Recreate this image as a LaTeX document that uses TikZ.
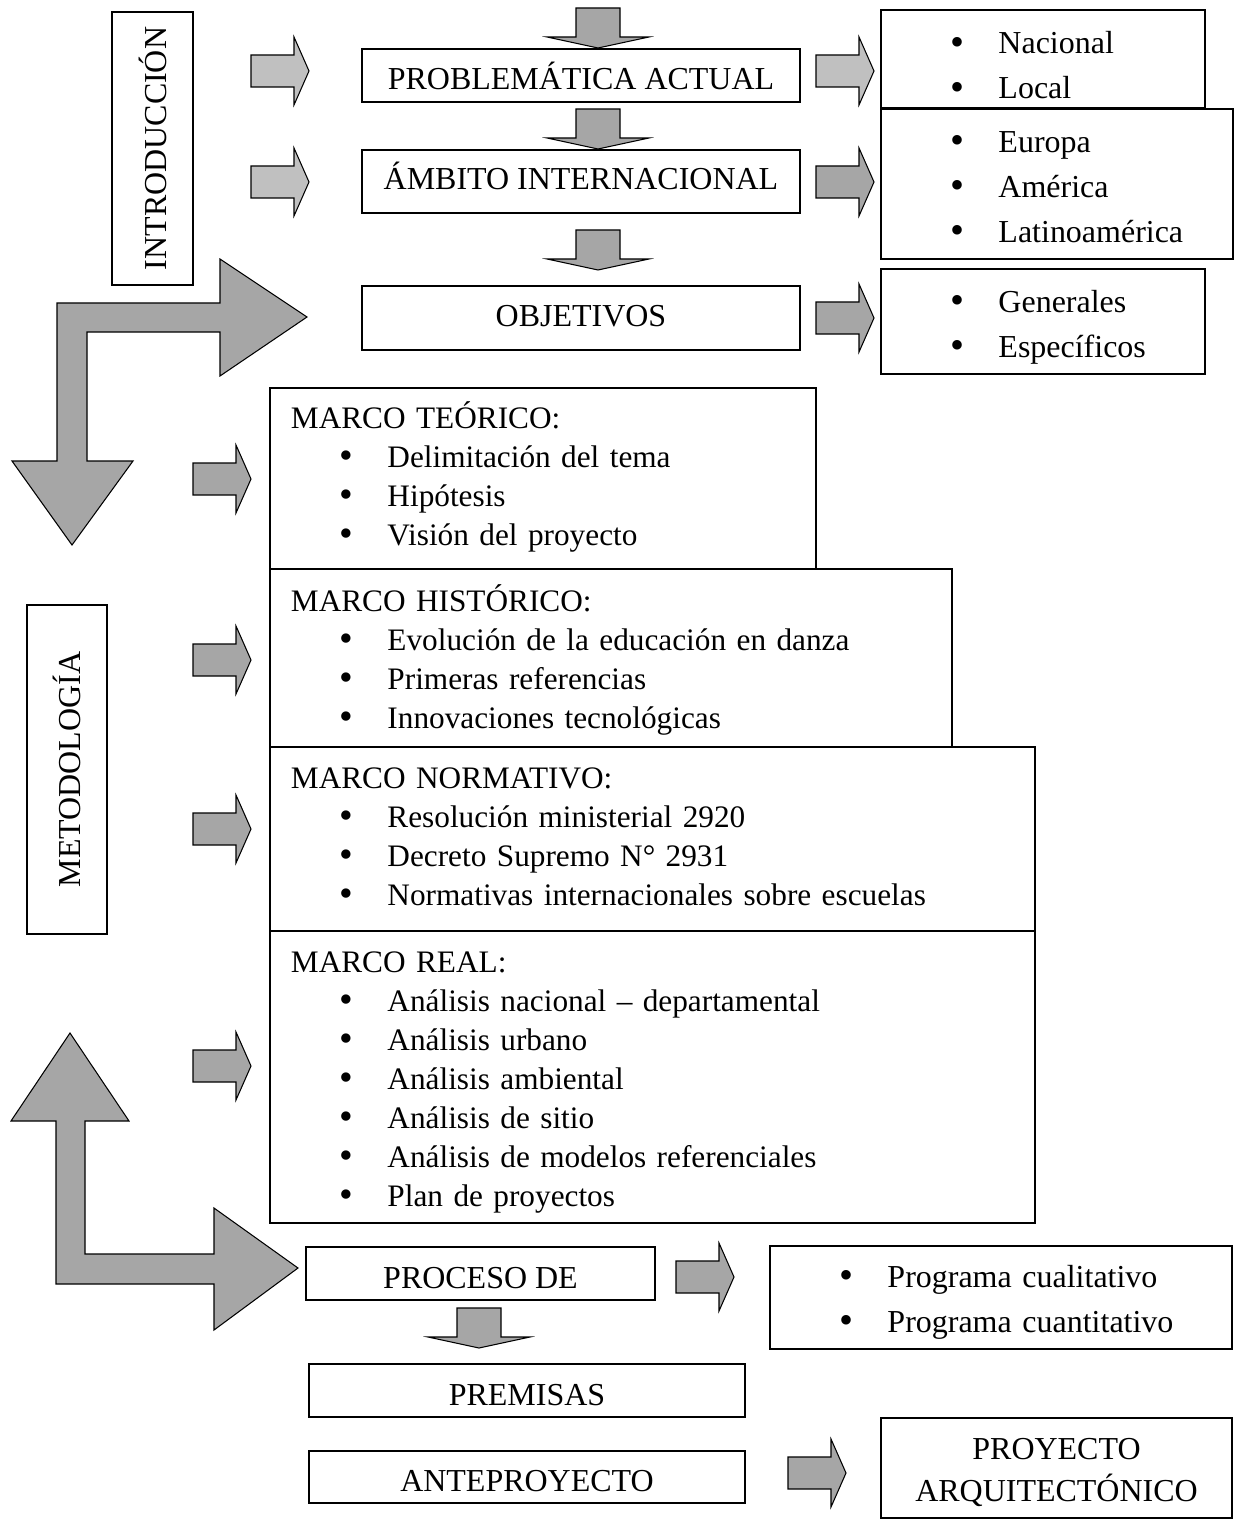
\documentclass[tikz,border=0pt]{standalone}
\usepackage{fontspec}
\setmainfont{Liberation Serif}
\usetikzlibrary{positioning}
\definecolor{grisclaro}{RGB}{192,192,192}
\definecolor{grisoscuro}{RGB}{166,166,166}
\newcommand{\pxl}{0.02cm}
\newcommand{\punto}{\hspace*{1.52cm}\makebox[0pt]{\raisebox{-0.04em}{\scalebox{1.25}{\textbullet}}}\hspace*{0.83cm}}
\newcommand{\titulo}{\hspace*{0.42cm}}

\begin{document}
\begin{tikzpicture}[
    x=\pxl, y=-\pxl,
    caja/.style={draw, line width=0.9pt, outer sep=0pt, inner sep=0pt, fill=white, font=\fontsize{18.2}{22.2}\selectfont},
    bloque/.style 2 args={caja, minimum width=#1*\pxl, minimum height=#2*\pxl, align=center},
    lista/.style 2 args={caja, minimum width=#1*\pxl, text width=#1*\pxl, minimum height=#2*\pxl, align=left, font=\fontsize{17.8}{22.2}\selectfont},
    listader/.style 2 args={lista={#1}{#2}, font=\fontsize{18.2}{25.6}\selectfont},
    vertical/.style 2 args={caja, rotate=90, minimum width=#1*\pxl, minimum height=#2*\pxl},
    base/.style={text height=#1, text depth=0pt},
    primera/.style={text height=0pt, text depth=#1},
    flecha/.style={draw, line width=0.6pt},
    der/.pic={\path[flecha, fill=#1] (0,-16) -- (43,-16) -- (43,-34) -- (58,0) -- (43,34) -- (43,16) -- (0,16) -- cycle;},
    aba/.pic={\path[flecha, fill=#1] (-22,0) -- (22,0) -- (22,29) -- (51,29) -- (0,40) -- (-51,29) -- (-22,29) -- cycle;}
  ]
    \useasboundingbox (0,0) rectangle (1244,1520);

    % flechas grandes en L
    \path[flecha, fill=grisoscuro] (57,461) -- (12,461) -- (72,545) -- (133,461) -- (87,461) -- (87,332) -- (220,332) -- (220,376) -- (307,317) -- (220,259) -- (220,303) -- (57,303) -- cycle;
    \path[flecha, fill=grisoscuro] (56,1121) -- (11,1121) -- (70,1033) -- (129,1121) -- (85,1121) -- (85,1254) -- (214,1254) -- (214,1208) -- (298,1268) -- (214,1330) -- (214,1284) -- (56,1284) -- cycle;

    % introduccion
    \node[vertical={273}{81}] (intro) at (152.5,148.5) {INTRODUCCIÓN};
    \node[bloque={438}{53}, base=16pt, anchor=north west] (prob) at (362,49) {PROBLEMÁTICA ACTUAL};
    \node[bloque={438}{63}, base=9pt, below=0.96cm of prob] (amb) {ÁMBITO INTERNACIONAL};
    \node[bloque={438}{64}, base=10pt, below=1.46cm of amb] (obj) {OBJETIVOS};
    \node[listader={324}{98}, primera=5.7pt, anchor=north west] (nac) at (881,10) {\punto Nacional\\\punto Local};
    \node[listader={352}{150}, primera=35.8pt, anchor=north west] (eur) at (881,109) {\punto Europa\\\punto América\\\punto Latinoamérica};
    \node[listader={324}{105}, primera=10.2pt, anchor=north west] (gen) at (881,269) {\punto Generales\\\punto Específicos};

    % metodologia
    \node[vertical={329}{80}] (met) at (67,769.5) {METODOLOGÍA};
    \node[lista={546}{181}, primera=56.9pt, anchor=north west] (teo) at (270,388) {\titulo MARCO TEÓRICO:\\\punto Delimitación del tema\\\punto Hipótesis\\\punto Visión del proyecto};
    \node[lista={682}{178}, primera=53.5pt, below=0pt of teo.south west, anchor=north west] (his) {\titulo MARCO HISTÓRICO:\\\punto Evolución de la educación en danza\\\punto Primeras referencias\\\punto Innovaciones tecnológicas};
    \node[lista={765}{184}, primera=57.5pt, below=0pt of his.south west, anchor=north west] (nor) {\titulo MARCO NORMATIVO:\\\punto Resolución ministerial 2920\\\punto Decreto Supremo N° 2931\\\punto Normativas internacionales sobre escuelas};
    \node[lista={765}{292}, primera=118.9pt, below=0pt of nor.south west, anchor=north west] (real) {\titulo MARCO REAL:\\\punto Análisis nacional – departamental\\\punto Análisis urbano\\\punto Análisis ambiental\\\punto Análisis de sitio\\\punto Análisis de modelos referenciales\\\punto Plan de proyectos};

    % proceso
    \node[bloque={349}{53}, base=16.5pt, anchor=north west] (proc) at (306,1247) {PROCESO DE};
    \node[listader={462}{103}, primera=11.4pt, anchor=north west] (prog) at (770,1246) {\punto Programa cualitativo\\\punto Programa cuantitativo};
    \node[bloque={436}{53}, base=16.5pt, anchor=north west] (prem) at (309,1364) {PREMISAS};
    \node[bloque={436}{52}, base=17pt, below=0.68cm of prem] (ante) {ANTEPROYECTO};
    \node[lista={351}{100}, primera=9.7pt, align=center, anchor=north west, font=\fontsize{18.2}{23.9}\selectfont] (arq) at (881,1418) {PROYECTO\\ARQUITECTÓNICO};

    % flechas
    \foreach \y in {8,109,230} \pic at (598,\y) {aba=grisoscuro};
    \pic at (479,1308) {aba=grisoscuro};
    \foreach \y in {71,182} \pic at (251,\y) {der=grisclaro};
    \pic at (816,71) {der=grisclaro};
    \foreach \y in {182,318} \pic at (816,\y) {der=grisoscuro};
    \foreach \y in {479,660,829,1066} \pic at (193,\y) {der=grisoscuro};
    \pic at (676,1277) {der=grisoscuro};
    \pic at (788,1473) {der=grisoscuro};
  \end{tikzpicture}
\end{document}
